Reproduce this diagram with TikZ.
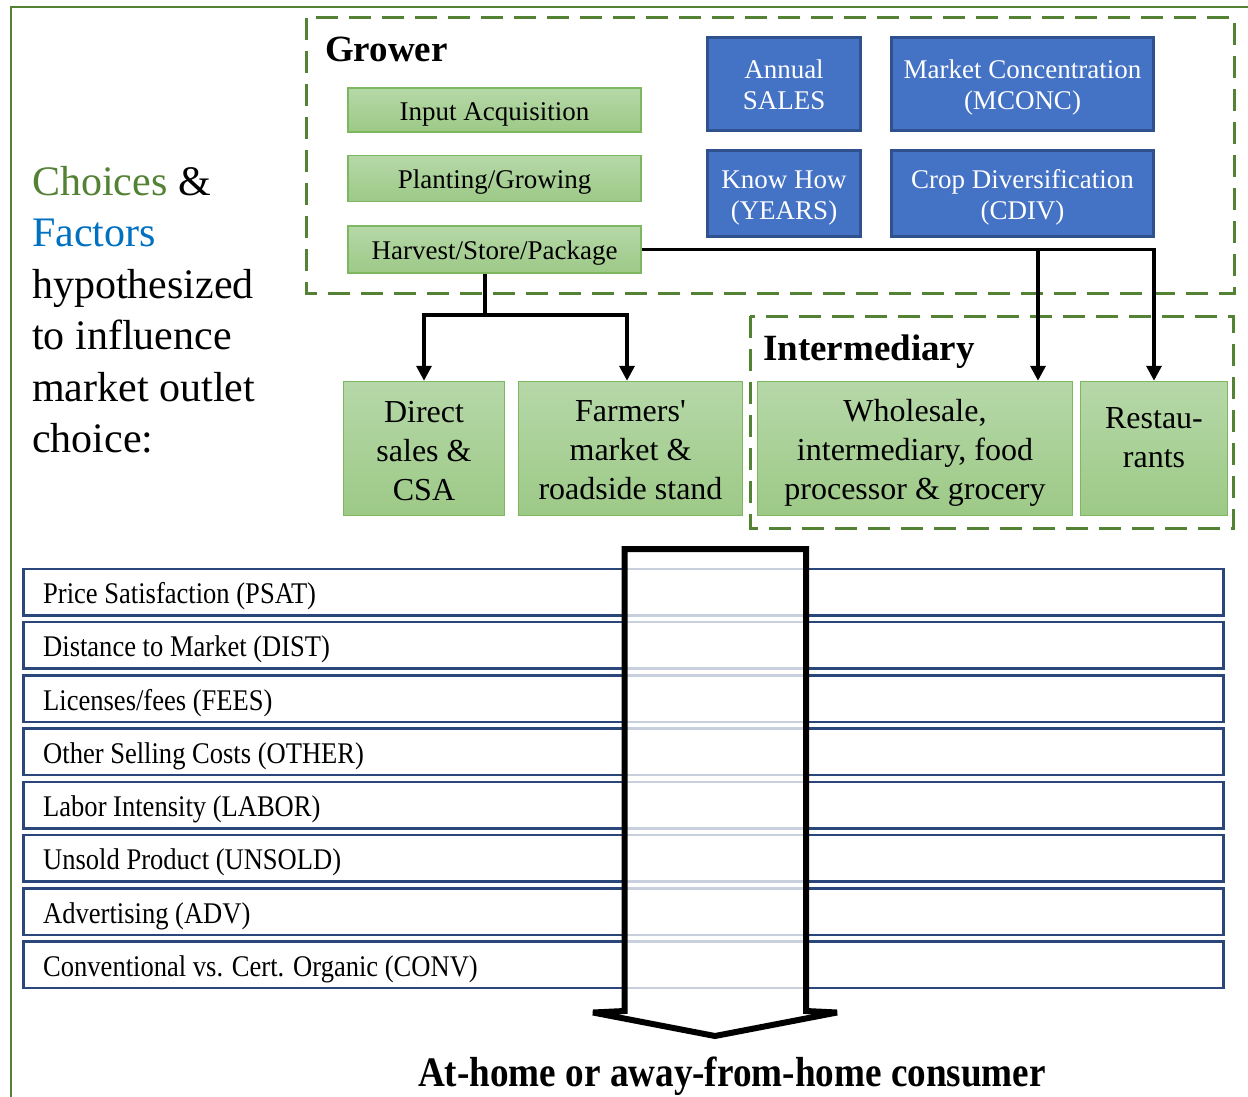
\documentclass[tikz,border=0pt]{standalone}
\usepackage{fontspec}
\setmainfont{Liberation Serif}
\usepackage{graphicx}
\usetikzlibrary{arrows.meta,calc}
\definecolor{dgreen}{HTML}{548235}
\definecolor{fblue}{HTML}{0070C0}
\definecolor{bfill}{HTML}{4472C4}
\definecolor{bdraw}{HTML}{2F528F}
\definecolor{gtop}{HTML}{B6D8A8}
\definecolor{gbot}{HTML}{9DC987}
\definecolor{gdraw}{HTML}{7DB760}
\definecolor{rowdraw}{HTML}{2B467A}
% lower the text block (adds #1 of height above it)
\newcommand\lowtext[2]{\raisebox{0pt}[\dimexpr\height+#1\relax][\depth]{\begin{tabular}{@{}c@{}}#2\end{tabular}}}
\begin{document}
\begin{tikzpicture}[x=1pt,y=-1pt,
  gbox/.style={draw=gdraw,line width=1.5pt,top color=gtop,bottom color=gbot,inner sep=0pt,align=center},
  smallg/.style={gbox,minimum width=293pt,font=\fontsize{27}{31}\selectfont},
  outlet/.style={gbox,minimum height=134pt,font=\fontsize{32}{39}\selectfont},
  bbox/.style={draw=bdraw,fill=bfill,line width=3pt,text=white,inner sep=0pt,align=center,font=\fontsize{27}{31}\selectfont},
  group/.style={draw=dgreen,line width=3pt,dash pattern=on 22pt off 11pt},
  rowbox/.style={draw=rowdraw,line width=2.5pt,fill=white,minimum width=1200pt,minimum height=46.5pt,inner sep=0pt,anchor=north west},
  rowtxt/.style={font=\fontsize{30}{36}\selectfont,inner sep=0pt,anchor=base west},
  conn/.style={line width=3.5pt,black},
  tip/.style={-{Triangle[length=15pt,width=15pt]}},
  heading/.style={font=\fontsize{37}{44}\selectfont\bfseries,inner sep=0pt,anchor=base west}
]
\useasboundingbox (0,0) rectangle (1248,1097);
\fill[white] (0,0) rectangle (1248,1097);

% outer frame
\draw[dgreen,line width=2.5pt] (11,1100) -- (11,7) -- (1252,7);

% left text
\node[font=\fontsize{42}{51.5}\selectfont,align=left,inner sep=0pt,anchor=base west] (intro) at (32,452.5)
 {{\color{dgreen}Choices} \&\\ {\color{fblue}Factors}\\ hypothesized\\ to influence\\ market outlet\\ choice:};

% grower group
\draw[group] (306.5,18) rectangle (1234.5,293.5);
\node[heading] (grower) at (325,62) {Grower};
\node[smallg,minimum height=44pt] (input) at (494.5,110) {\lowtext{8pt}{Input Acquisition}};
\node[smallg,minimum height=46pt] (plant) at (494.5,178.5) {\lowtext{8pt}{Planting/Growing}};
\node[smallg,minimum height=47pt] (harv) at (494.5,249.5) {\lowtext{8pt}{Harvest/Store/Package}};

\node[bbox,minimum width=153pt,minimum height=93pt] (sales) at (784,84) {\lowtext{8pt}{Annual\\SALES}};
\node[bbox,minimum width=262pt,minimum height=93pt] (mconc) at (1022.5,84) {\lowtext{8pt}{Market Concentration\\(MCONC)}};
\node[bbox,minimum width=153pt,minimum height=86pt] (years) at (784,193.5) {\lowtext{8pt}{Know How\\(YEARS)}};
\node[bbox,minimum width=262pt,minimum height=86pt] (cdiv) at (1022.5,193.5) {\lowtext{8pt}{Crop Diversification\\(CDIV)}};

% intermediary group
\draw[group] (750,316) rectangle (1233.5,528);
\node[heading] (inter) at (763,360) {Intermediary};

% outlets
\node[outlet,minimum width=161pt] (direct) at (424,448.5) {\lowtext{10pt}{Direct\\sales \&\\CSA}};
\node[outlet,minimum width=224pt] (farm) at (630.5,448.5) {\lowtext{8pt}{Farmers\textquotesingle\\market \&\\roadside stand}};
\node[outlet,minimum width=315pt] (whole) at (915,448.5) {\lowtext{9pt}{Wholesale,\\intermediary, food\\processor \& grocery}};
\node[outlet,minimum width=147pt] (rest) at (1154,448.5) {};
\node[font=\fontsize{32}{39}\selectfont,align=center,inner sep=0pt] (resttxt) at ([yshift=11pt]rest.center) {Restau-\\rants};

% connectors
\path (harv.south) ++(-9.5,0) coordinate (hb);
\coordinate (jt) at (485,315);
\coordinate (jw) at (1038,249.5);
\draw[conn] (hb) -- (jt);
\draw[conn,tip] (jt) -| (direct.north);
\draw[conn,tip] (jt) -| ([xshift=-3.5pt]farm.north);
\draw[conn,tip] (harv.east) -| (rest.north);
\draw[conn,tip] (jw) -- (jw |- whole.north);

% factor rows
\foreach \t [count=\i from 0] in {Price Satisfaction (PSAT),Distance to Market (DIST),Licenses/fees (FEES),Other Selling Costs (OTHER),Labor Intensity (LABOR),Unsold Product (UNSOLD),Advertising (ADV),Conventional vs. Cert. Organic (CONV)}{
  \node[rowbox] (row\i) at (22,567.5+53.28*\i) {};
  \node[rowtxt] (rowt\i) at (43,603.5+53.28*\i) {\scalebox{0.885}[1]{\t}};
}

% big arrow
\draw[line width=6pt,line join=miter,miter limit=2,fill=white,fill opacity=0.75,draw opacity=1]
  (624.5,1011) -- (624.5,549) -- (806,549) -- (806,1011) -- (837,1012.5) -- (715,1036) -- (593,1012.5) -- cycle;

\node[font=\fontsize{42}{50}\selectfont\bfseries,inner sep=0pt,anchor=base] (consumer) at (732,1086)
 {\scalebox{0.885}[1]{At-home or away-from-home consumer}};
\end{tikzpicture}
\end{document}
